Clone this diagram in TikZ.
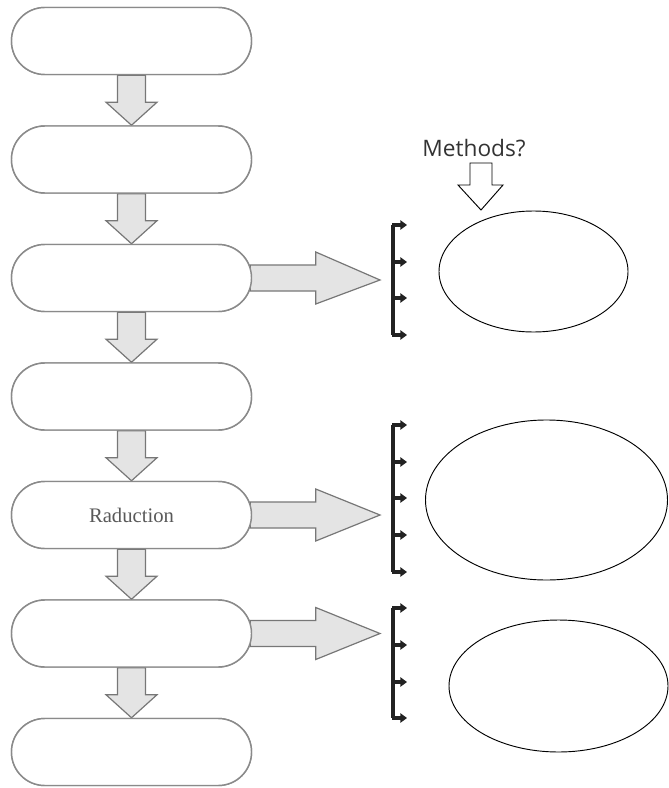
\documentclass[tikz,border=0pt]{standalone}
\usepackage{fontspec}
\setmainfont{Liberation Serif}
\newfontfamily\methfont{Open Sans}
\usetikzlibrary{calc,arrows.meta,shapes.geometric}
\definecolor{boxgray}{HTML}{8A8A8A}
\definecolor{arrfill}{HTML}{E4E4E4}
\definecolor{arrline}{HTML}{777777}
\definecolor{brk}{HTML}{222222}
\tikzset{
  stadium/.style={draw=boxgray, line width=1.1pt, fill=white, rounded corners=25pt,
    minimum width=180pt, minimum height=50.25pt, inner sep=0pt},
  blockarr/.style={draw=arrline, fill=arrfill, line width=0.9pt, line join=miter},
  oval/.style={draw=black, line width=0.7pt, ellipse, inner sep=0pt},
  brackline/.style={draw=brk, line width=2.4pt},
  ticktip/.style={draw=brk, line width=2.4pt, -{Triangle[length=5pt,width=7pt]}},
  methodarr/.style={draw=black, fill=white, line width=0.7pt, line join=miter}
}
\newcommand\dnarrow[2]{%
  \filldraw[blockarr] ($(#1.south)+(-14,0)$) -- ($(#1.south)+(-14,27)$) -- ($(#1.south)+(-25.5,27)$)
    -- (#2.north) -- ($(#1.south)+(25.5,27)$) -- ($(#1.south)+(14,27)$) -- ($(#1.south)+(14,0)$) -- cycle;}
\newcommand\rtarrow[2]{%
  \filldraw[blockarr] ($(#1.east)+(-2,-13)$) -- ($(#1.east)+(63.5,-13)$) -- ($(#1.east)+(63.5,-26)$)
    -- (#2) -- ($(#1.east)+(63.5,26)$) -- ($(#1.east)+(63.5,13)$) -- ($(#1.east)+(-2,13)$) -- cycle;}
\begin{document}
\begin{tikzpicture}[x=0.75pt,y=-0.75pt]
\useasboundingbox (0,0) rectangle (668,788);
\coordinate (t1) at (380,280);
\coordinate (t2) at (380,515);
\coordinate (t3) at (380,633.5);
% boxes
\foreach \i in {1,...,7} {
  \node[stadium] (b\i) at (131.5,{41+(\i-1)*118.5}) {};
}
\dnarrow{b1}{b2}
\dnarrow{b2}{b3}
\dnarrow{b3}{b4}
\dnarrow{b4}{b5}
\dnarrow{b5}{b6}
\dnarrow{b6}{b7}
\rtarrow{b3}{t1}
\rtarrow{b5}{t2}
\rtarrow{b6}{t3}
\foreach \i in {1,...,7} {
  \node[stadium] at (b\i) {};
}
\node[text=black!65, font=\fontsize{15.5}{17}\selectfont] (lab) at (b5) {Raduction};
% brackets
\draw[brackline] (393,225) -- (393,335);
\foreach \y in {225,262,298,335} {\draw[ticktip] (392,\y) -- (407,\y);}
\draw[brackline] (393,425) -- (393,572);
\foreach \y in {425,462,498,535,572} {\draw[ticktip] (392,\y) -- (407,\y);}
\draw[brackline] (393,608) -- (393,718);
\foreach \y in {608,645,682,718} {\draw[ticktip] (392,\y) -- (407,\y);}
% ellipses
\node[oval, minimum width=141.75pt, minimum height=90.75pt] (e1) at (533.5,271.5) {};
\node[oval, minimum width=181.5pt, minimum height=120pt] (e2) at (546.5,500) {};
\node[oval, minimum width=164.25pt, minimum height=99pt] (e3) at (558.5,686) {};
% methods
\node[text=black!80, font=\methfont\fontsize{17}{19}\selectfont, inner sep=0pt] (meth) at (474,148) {Methods?};
\coordinate (mtip) at (481,210);
\filldraw[methodarr] (470,163) -- (470,185) -- (458,185) -- (mtip) -- (503,185) -- (492,185) -- (492,163) -- cycle;
\end{tikzpicture}
\end{document}
